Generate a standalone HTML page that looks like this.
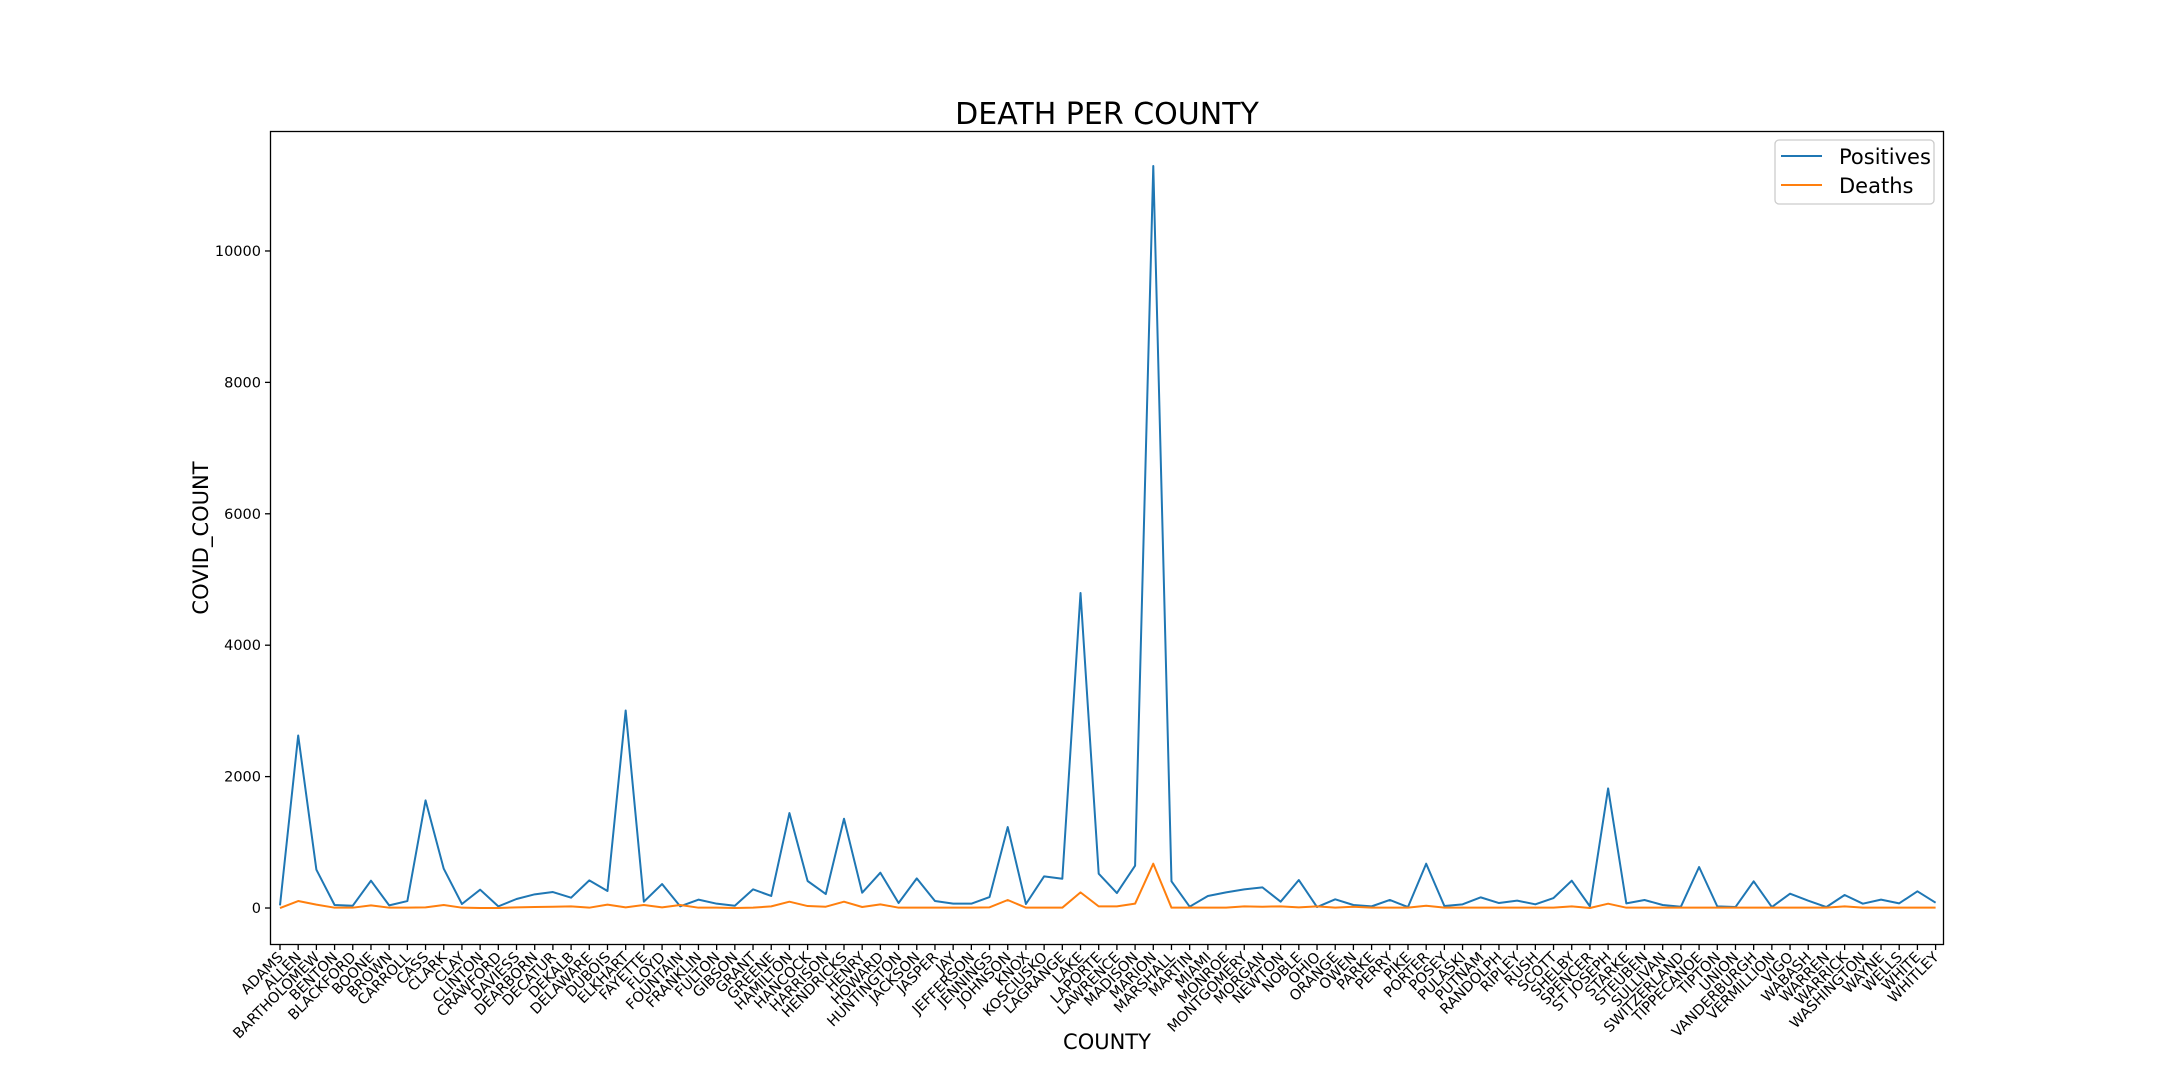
<!DOCTYPE html>
<html><head><meta charset="utf-8"><style>
html,body{margin:0;padding:0;background:#fff;}
svg{display:block;font-family:"DejaVu Sans","Liberation Sans",sans-serif;}
</style></head><body>
<svg id="chart" width="2160" height="1080" xmlns="http://www.w3.org/2000/svg">
<rect width="2160" height="1080" fill="#fff"/>
<text x="1107" y="124" text-anchor="middle" font-size="30">DEATH PER COUNTY</text>
<text x="1107" y="1049" text-anchor="middle" font-size="21">COUNTY</text>
<text transform="translate(208,538) rotate(-90)" text-anchor="middle" font-size="21">COVID_COUNT</text>
<g id="plot"></g>
<rect x="270.5" y="131.5" width="1673" height="813" fill="none" stroke="#000" stroke-width="1.3"/>
<g>
<rect x="1775" y="140" width="159" height="64" rx="4" fill="#fff" fill-opacity="0.8" stroke="#ccc" stroke-width="1.3"/>
<line x1="1781" y1="156" x2="1822" y2="156" stroke="#1f77b4" stroke-width="2"/>
<text x="1839" y="164" font-size="21">Positives</text>
<line x1="1781" y1="185" x2="1822" y2="185" stroke="#ff7f0e" stroke-width="2"/>
<text x="1839" y="193" font-size="21">Deaths</text>
</g>
</svg>
<script>
const counties = ["ADAMS","ALLEN","BARTHOLOMEW","BENTON","BLACKFORD","BOONE","BROWN","CARROLL","CASS","CLARK","CLAY","CLINTON","CRAWFORD","DAVIESS","DEARBORN","DECATUR","DEKALB","DELAWARE","DUBOIS","ELKHART","FAYETTE","FLOYD","FOUNTAIN","FRANKLIN","FULTON","GIBSON","GRANT","GREENE","HAMILTON","HANCOCK","HARRISON","HENDRICKS","HENRY","HOWARD","HUNTINGTON","JACKSON","JASPER","JAY","JEFFERSON","JENNINGS","JOHNSON","KNOX","KOSCIUSKO","LAGRANGE","LAKE","LAPORTE","LAWRENCE","MADISON","MARION","MARSHALL","MARTIN","MIAMI","MONROE","MONTGOMERY","MORGAN","NEWTON","NOBLE","OHIO","ORANGE","OWEN","PARKE","PERRY","PIKE","PORTER","POSEY","PULASKI","PUTNAM","RANDOLPH","RIPLEY","RUSH","SCOTT","SHELBY","SPENCER","ST JOSEPH","STARKE","STEUBEN","SULLIVAN","SWITZERLAND","TIPPECANOE","TIPTON","UNION","VANDERBURGH","VERMILLION","VIGO","WABASH","WARREN","WARRICK","WASHINGTON","WAYNE","WELLS","WHITE","WHITLEY"];
const positives = [40,2626,583,46,35,416,40,106,1638,598,61,279,25,137,208,243,157,421,259,3006,96,365,25,127,66,35,284,183,1445,411,213,1359,233,537,76,451,106,66,66,167,1232,61,482,446,4795,522,228,644,11294,406,20,183,238,284,314,96,426,15,132,46,25,122,15,674,30,56,162,76,112,56,152,416,25,1820,71,122,46,20,624,25,15,406,15,218,112,15,198,66,127,71,254,81];
const deaths = [0,106,51,5,5,40,5,5,10,46,5,0,0,10,15,20,25,5,51,10,46,10,46,5,5,0,5,25,96,30,20,96,15,56,5,5,5,5,5,10,122,5,5,5,238,25,25,66,674,5,5,5,5,25,20,25,10,25,5,20,5,5,5,35,5,5,5,5,5,5,5,25,0,66,5,5,5,5,5,5,5,5,5,5,5,5,25,5,5,5,5,5];
const yTicks = [0,2000,4000,6000,8000,10000];

const NS = "http://www.w3.org/2000/svg";
const plot = document.getElementById("plot");
const X0 = 280, X1 = 1935.6, Y_TOP = 131, Y_BOT = 945, VMIN = -563, VMAX = 11826;
function xs(i){ return X0 + (X1 - X0) * i / (counties.length - 1); }
function ys(v){ return Y_BOT - (v - VMIN) / (VMAX - VMIN) * (Y_BOT - Y_TOP); }
function mk(tag, attrs){ const e = document.createElementNS(NS, tag); for (const k in attrs) e.setAttribute(k, attrs[k]); return e; }

yTicks.forEach(function(t){
  const y = ys(t);
  const tk = mk("line", {x1: 265, y1: y, x2: 270, y2: y, stroke: "#000", "stroke-width": 1.3});
  
  
  plot.appendChild(tk);
  const tx = mk("text", {x: 261, y: y + 5, "text-anchor": "end", "font-size": 14.5});
  
  
  tx.textContent = String(t);
  plot.appendChild(tx);
});

counties.forEach(function(c, i){
  const x = xs(i);
  const tk = mk("line", {x1: x, y1: 945, x2: x, y2: 950, stroke: "#000", "stroke-width": 1.3});
  
  
  plot.appendChild(tk);
  const tx = mk("text", {transform: "translate(" + (x + 4) + ",958) rotate(-45)", "text-anchor": "end", "font-size": 14.5});
  
  
  tx.textContent = c;
  plot.appendChild(tx);
});

function line(vals, color, name){
  const pts = vals.map(function(v, i){ return xs(i).toFixed(2) + "," + ys(v).toFixed(2); }).join(" ");
  const p = mk("polyline", {points: pts, fill: "none", stroke: color, "stroke-width": 2, "stroke-linejoin": "round"});
  
  
  plot.appendChild(p);
}
line(positives, "#1f77b4", "positives-line");
line(deaths, "#ff7f0e", "deaths-line");
</script>
</body></html>
